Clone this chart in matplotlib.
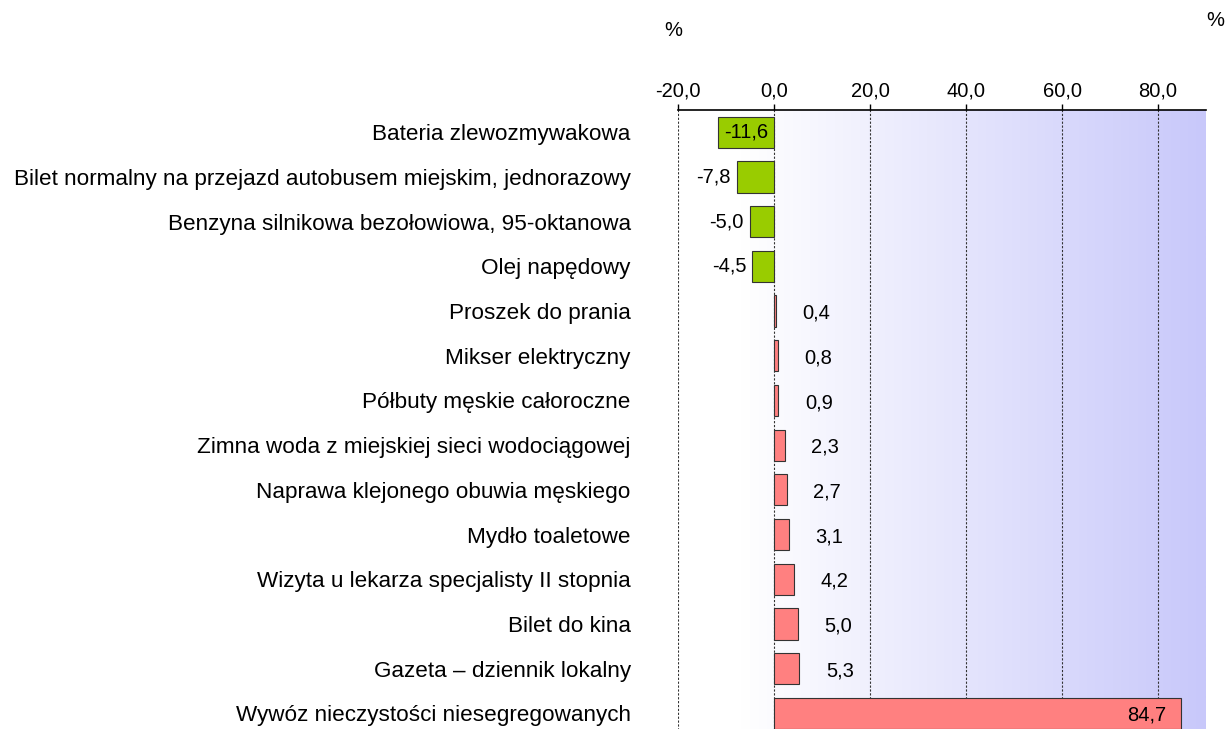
import matplotlib
matplotlib.use("Agg")
import matplotlib.pyplot as plt
import numpy as np
from matplotlib.colors import LinearSegmentedColormap

plt.rcParams["font.family"] = ["Liberation Sans", "DejaVu Sans"]

categories = [
    "Bateria zlewozmywakowa",
    "Bilet normalny na przejazd autobusem miejskim, jednorazowy",
    "Benzyna silnikowa bezołowiowa, 95-oktanowa",
    "Olej napędowy",
    "Proszek do prania",
    "Mikser elektryczny",
    "Półbuty męskie całoroczne",
    "Zimna woda z miejskiej sieci wodociągowej",
    "Naprawa klejonego obuwia męskiego",
    "Mydło toaletowe",
    "Wizyta u lekarza specjalisty II stopnia",
    "Bilet do kina",
    "Gazeta – dziennik lokalny",
    "Wywóz nieczystości niesegregowanych",
]
values = [-11.6, -7.8, -5.0, -4.5, 0.4, 0.8, 0.9, 2.3, 2.7, 3.1, 4.2, 5.0, 5.3, 84.7]
xticks = [-20, 0, 20, 40, 60, 80]

GREEN = "#99CC00"
RED = "#FF8080"
FS = 14.5

fig = plt.figure(figsize=(12.27, 7.29), dpi=100)
fig.patch.set_facecolor("white")
ax = fig.add_axes([0.5526, -0.009, 0.4303, 0.858])

xmin, xmax = -20, 90
n = len(categories)
ax.set_xlim(xmin, xmax)
ax.set_ylim(n - 0.5, -0.5)

# gradient background, white on the left to lavender on the right
cmap = LinearSegmentedColormap.from_list(
    "bg", [(0.0, "#FFFFFF"), (0.12, "#FFFFFF"), (1.0, "#C8C8FA")]
)
grad = np.linspace(0, 1, 256).reshape(1, -1)
ax.imshow(grad, extent=(xmin, xmax, n - 0.5, -0.5), aspect="auto",
          cmap=cmap, zorder=0)

y = np.arange(n)
colors = [GREEN if v < 0 else RED for v in values]
ax.barh(y, values, height=0.7, color=colors, edgecolor="#333333",
        linewidth=0.8, zorder=3)

for yi, v in zip(y, values):
    label = f"{v:.1f}".replace(".", ",")
    if v < -10:
        ax.text(v / 2, yi, label, ha="center", va="center", fontsize=FS, zorder=4)
    elif v < 0:
        ax.text(v - 1.3, yi, label, ha="right", va="center", fontsize=FS, zorder=4)
    elif v > 50:
        ax.text(v - 3.0, yi + 0.05, label, ha="right", va="center", fontsize=FS, zorder=4)
    else:
        ax.text(v + 5.5, yi + 0.05, label, ha="left", va="center", fontsize=FS, zorder=4)

ax.set_yticks(y)
ax.set_yticklabels(categories, fontsize=16.2)
ax.tick_params(axis="y", length=0, pad=34)

ax.xaxis.tick_top()
ax.set_xticks(xticks)
ax.set_xticklabels([f"{t:.1f}".replace(".", ",") for t in xticks], fontsize=FS)
ax.tick_params(axis="x", direction="out", length=4, width=1, pad=3, color="black")

for t in xticks:
    ax.axvline(t, color="#333333", linestyle=(0, (2, 1.5)), linewidth=0.8, zorder=1)

for side in ["right", "bottom", "left"]:
    ax.spines[side].set_visible(False)
ax.spines["top"].set_linewidth(1.2)

fig.text(673 / 1227, 1 - 30 / 729, "%", ha="center", va="center", fontsize=FS)
fig.text(1215 / 1227, 1 - 20 / 729, "%", ha="center", va="center", fontsize=FS)

fig.savefig("out.png", dpi=100, facecolor="white")
